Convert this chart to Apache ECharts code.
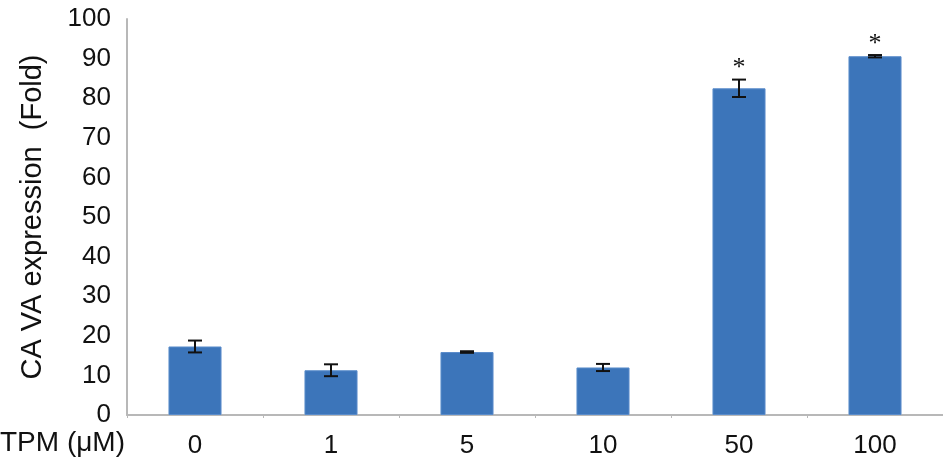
<!DOCTYPE html>
<html>
<head>
<meta charset="utf-8">
<script src="https://cdn.jsdelivr.net/npm/echarts@6/dist/echarts.min.js"></script>
<style>
  html, body { margin: 0; padding: 0; background: #fff; }
  #chart { width: 943px; height: 471px; }
</style>
</head>
<body>
<div id="chart"></div>
<script>
const categories = ['0', '1', '5', '10', '50', '100']
const means = [17.3, 11.3, 15.9, 12.0, 82.5, 90.6]
const errors = [1.5, 1.5, 0.2, 0.9, 2.2, 0.3]
const marks = ['', '', '', '', '*', '*']
const yTicks = [0, 100, 10]  // min, max, interval

const FONT = 'Liberation Sans, Arial, sans-serif'

const chart = echarts.init(document.getElementById('chart'))

chart.setOption({
    animation: false,
    grid: { left: 127, right: -2, top: 19, bottom: 56 },
    xAxis: {
        type: 'category',
        data: categories,
        axisLine: { lineStyle: { color: '#b8b8b8', width: 2 } },
        axisTick: { show: true, length: 3, lineStyle: { color: '#b8b8b8' } },
        axisLabel: { color: '#111', fontSize: 26, fontFamily: FONT, margin: 18 }
    },
    yAxis: {
        type: 'value',
        min: yTicks[0],
        max: yTicks[1],
        interval: yTicks[2],
        name: 'CA VA expression  (Fold)',
        nameLocation: 'middle',
        nameGap: 80,
        nameTextStyle: { color: '#111', fontSize: 29, fontFamily: FONT },
        axisLine: { show: true, lineStyle: { color: '#b8b8b8', width: 2 } },
        axisTick: { show: false },
        splitLine: { show: false },
        axisLabel: { color: '#111', fontSize: 26, fontFamily: FONT, margin: 16 }
    },
    graphic: [{
        type: 'text',
        left: 0,
        top: 429,
        style: { text: 'TPM (\u03bcM)', fontSize: 28, fontFamily: FONT, fill: '#111' }
    }],
    series: [
        {
            type: 'bar',
            data: means,
            barWidth: '39%',
            itemStyle: { color: '#3c75ba', borderColor: '#5a8ccb', borderWidth: 1 }
        },
        {
            type: 'custom',
            data: means.map((m, i) => [i, m - errors[i], m + errors[i]]),
            z: 10,
            renderItem(params, api) {
                const i = api.value(0)
                const lo = api.coord([i, api.value(1)])
                const hi = api.coord([i, api.value(2)])
                const half = 7
                const style = { stroke: '#111', lineWidth: 2 }
                const children = [
                    { type: 'line', shape: { x1: lo[0], y1: lo[1], x2: hi[0], y2: hi[1] }, style },
                    { type: 'line', shape: { x1: lo[0] - half, y1: lo[1], x2: lo[0] + half, y2: lo[1] }, style },
                    { type: 'line', shape: { x1: hi[0] - half, y1: hi[1], x2: hi[0] + half, y2: hi[1] }, style }
                ]
                if (marks[i]) {
                    children.push({
                        type: 'text',
                        style: {
                            text: marks[i], x: hi[0], y: hi[1] + 2,
                            align: 'center', verticalAlign: 'bottom',
                            fontSize: 26, fontFamily: 'Liberation Serif, serif', fill: '#111'
                        }
                    })
                }
                return { type: 'group', children }
            }
        }
    ]
})
</script>
</body>
</html>
